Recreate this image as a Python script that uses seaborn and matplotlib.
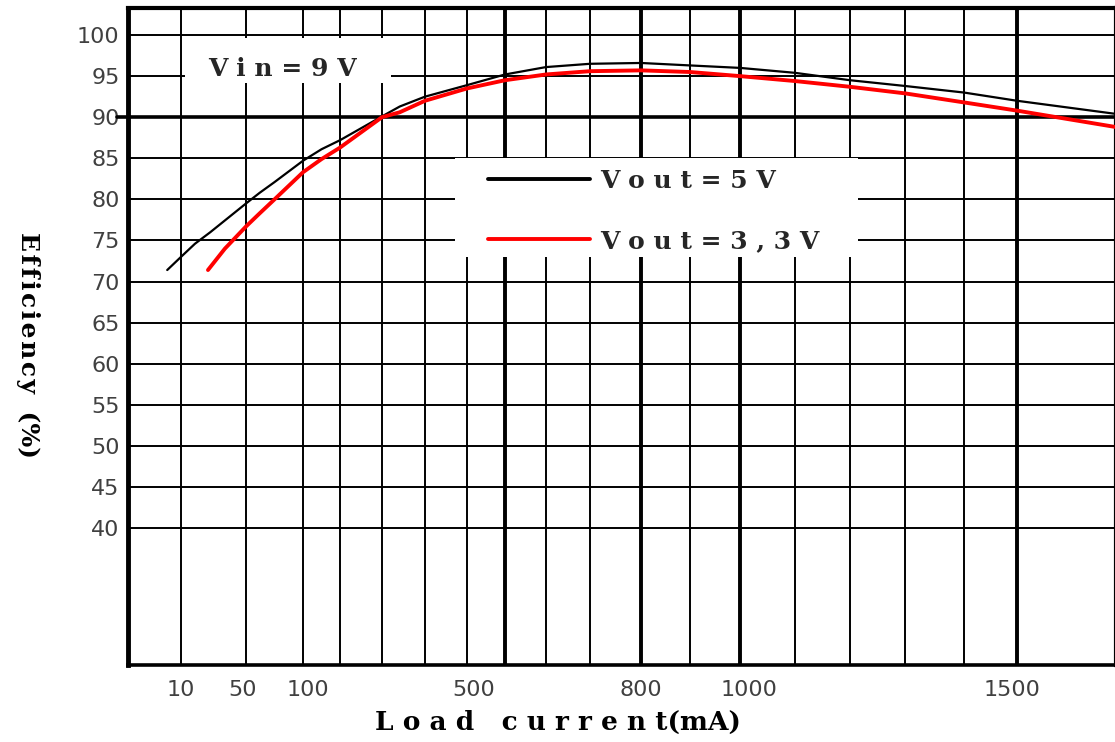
import numpy as np
import pandas as pd
import matplotlib
matplotlib.use("Agg")
import matplotlib.pyplot as plt
import matplotlib.transforms as mtransforms
from matplotlib.patches import Rectangle
from matplotlib.lines import Line2D
import seaborn as sns

# efficiency curves (load current in mA, efficiency in %)
current_5v = [7.4, 10, 18.6, 28, 50, 62, 75, 100, 140, 180, 260, 293, 340, 420, 500, 600, 700,
              800, 900, 1000, 1100, 1200, 1300, 1400, 1500, 1700]
eff_5v = [71.4, 73.0, 74.6, 76.0, 79.5, 80.8, 82.1, 84.7, 86.1, 87.2, 90.1, 91.3, 92.5, 93.9,
          95.2, 96.1, 96.5, 96.6, 96.3, 96.0, 95.4, 94.5, 93.8, 93.0, 92.0, 90.4]

current_3v3 = [26.6, 37, 50, 62, 75, 100, 140, 180, 260, 293, 340, 420, 500, 600, 700,
               800, 900, 1000, 1100, 1200, 1300, 1400, 1500, 1700]
eff_3v3 = [71.4, 74.0, 76.7, 78.3, 80.0, 83.3, 84.9, 86.3, 90.0, 90.6, 92.0, 93.5, 94.5, 95.2,
           95.6, 95.7, 95.5, 95.0, 94.4, 93.7, 92.9, 91.8, 90.8, 88.8]

series = ["Vout=5V", "Vout=3,3V"]
x_ticks = [10, 50, 100, 500, 800, 1000, 1500]
x_grid = [10, 50, 100, 180, 260, 340, 420, 500, 600, 700, 800, 900, 1000,
          1100, 1200, 1300, 1400, 1500]
x_grid_bold = [500, 800, 1000, 1500]
y_ticks = list(range(40, 101, 5))

df = pd.concat([
    pd.DataFrame({"current": current_5v, "eff": eff_5v, "series": series[0]}),
    pd.DataFrame({"current": current_3v3, "eff": eff_3v3, "series": series[1]}),
])

# the hand drawn x axis of the datasheet is not linear: piecewise mapping mA -> position
axis_ma = np.array([0, 10, 50, 100, 180, 260, 340, 420, 500, 600, 700, 800, 900,
                    1000, 1100, 1200, 1300, 1400, 1500, 1700], dtype=float)
axis_pos = np.array([128, 181, 246, 303, 340, 382, 425, 467, 505, 546, 590, 641, 690,
                     740, 795, 850, 905, 964, 1017, 1116], dtype=float)

def fwd(x):
    return np.interp(np.asarray(x, dtype=float), axis_ma, axis_pos)

def inv(p):
    return np.interp(np.asarray(p, dtype=float), axis_pos, axis_ma)

sns.set_theme(style="white")
plt.rcParams["font.family"] = ["DejaVu Sans"]
serif = dict(family="DejaVu Serif", weight="bold")

W, H = 1115, 742
fig = plt.figure(figsize=(W / 100, H / 100), dpi=100)
ax = fig.add_axes([128 / W, 1 - 665 / H, (1116 - 128) / W, (665 - 8) / H])
ax.set_xscale("function", functions=(fwd, inv))
ax.set_xlim(0, 1700)
ax.set_ylim(23.33, 103.29)

# grid
for v in y_ticks:
    if v == 90:
        ax.axhline(v, xmin=-0.011, color="black", lw=2.6, zorder=1, clip_on=False)
    else:
        ax.axhline(v, color="black", lw=1.4, zorder=1)
for c in x_grid:
    ax.axvline(c, color="black", lw=2.8 if c in x_grid_bold else 1.4, zorder=1)

# white boxes behind the annotations
ax.add_patch(Rectangle((57 / 987, 0.886), 0.208, 0.068, transform=ax.transAxes,
                       facecolor="white", edgecolor="none", zorder=2))
ax.add_patch(Rectangle((0.331, 0.621), 0.408, 0.150, transform=ax.transAxes,
                       facecolor="white", edgecolor="none", zorder=2))

palette = {series[0]: "black", series[1]: "#ff0000"}
sizes = {series[0]: 1.6, series[1]: 2.8}
sns.lineplot(data=df, x="current", y="eff", hue="series", size="series",
             palette=palette, sizes=sizes, legend=False, ax=ax, zorder=3)

def spaced(s):
    return " ".join(s)

handles = [Line2D([], [], color=palette[s], lw=2.8) for s in series]
leg = ax.legend(handles, [spaced("Vout=5V"), spaced("Vout=3,3V")],
                loc="upper left", bbox_to_anchor=(0.364, 0.755), frameon=False,
                prop=dict(size=18, **serif), handlelength=4.1, handletextpad=0.4,
                labelspacing=1.45, borderpad=0, borderaxespad=0)
leg.set_zorder(4)

ax.text(0.081, 0.907, spaced("Vin=9V"), transform=ax.transAxes, ha="left", va="center",
        fontsize=18, zorder=4, **serif)

# ticks
ax.set_xticks(x_ticks)
ax.set_xticklabels([str(t) for t in x_ticks])
ax.xaxis.set_minor_locator(matplotlib.ticker.NullLocator())
ax.set_yticks(y_ticks)
ax.set_yticklabels([str(t) for t in y_ticks])
ax.tick_params(axis="both", length=0, labelsize=16, labelcolor="#404040")
ax.tick_params(axis="x", pad=11)
ax.tick_params(axis="y", pad=6)

label_shift = {50: -3, 100: 5, 500: -31, 1000: 9, 1500: -5}
for t, lab in zip(x_ticks, ax.get_xticklabels()):
    if t in label_shift:
        lab.set_transform(lab.get_transform() +
                          mtransforms.ScaledTranslation(label_shift[t] / 100, 0, fig.dpi_scale_trans))

ax.set_xlabel("L o a d   c u r r e n t(mA)", fontsize=19, color="black", **serif)
ax.xaxis.set_label_coords(0.435, -0.069)
hair = "\u200a"
ax.set_ylabel(hair.join("Efficiency") + "  (%)", fontsize=18, color="black", rotation=-90,
              va="center", ha="center", **serif)
ax.yaxis.set_label_coords(-0.101, 0.487)

for side, lw in [("left", 3.5), ("bottom", 2.6), ("top", 3.0), ("right", 3.0)]:
    ax.spines[side].set_color("black")
    ax.spines[side].set_linewidth(lw)

fig.savefig("out.png", dpi=100)
